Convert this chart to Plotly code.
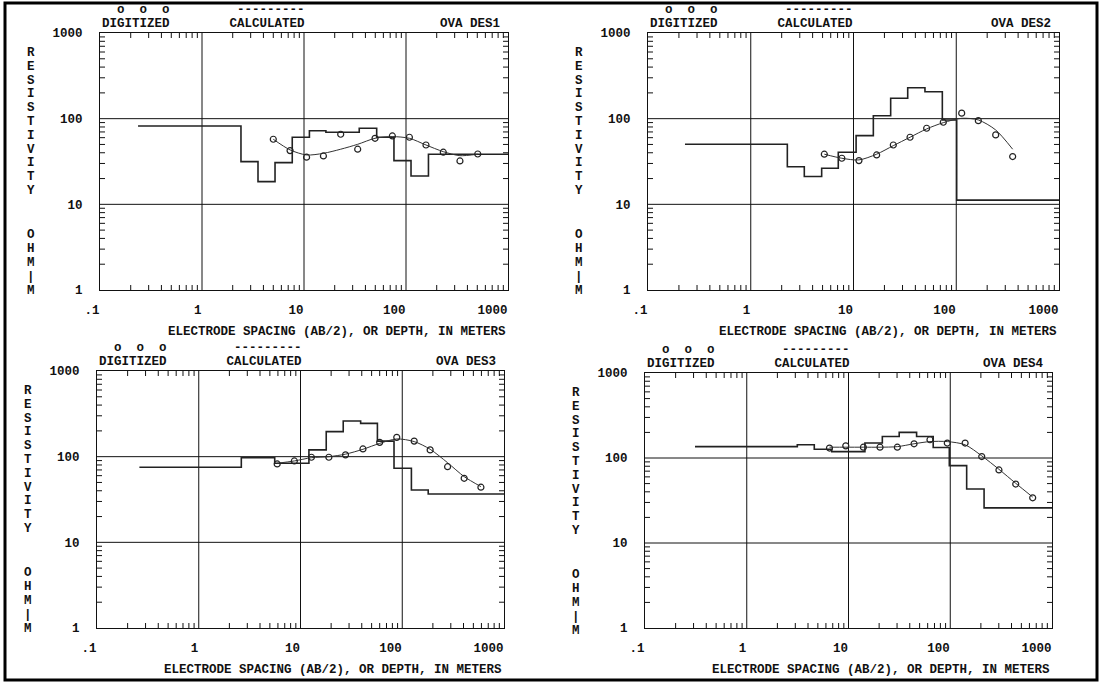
import plotly.graph_objects as go

# ---------------- data ----------------
des1_spacing = [5.0, 7.3, 10.6, 15.5, 22.9, 33.6, 49.7, 73.5, 108, 157, 232, 338, 505]
des1_digitized = [57.5, 42.4, 35.5, 36.7, 65.8, 44.0, 59.0, 62.8, 60.7, 49.3, 40.6, 32.1, 38.7]
des1_calculated = [57.5, 43.2, 37.7, 39.4, 44.0, 50.2, 59.0, 61.7, 59.0, 49.3, 41.2, 37.0, 38.5]
des1_depth = [0.236, 2.41, 3.54, 5.2, 7.67, 11.3, 16.4, 34.8, 51.6, 76.2, 112, 166, 1000]
des1_rho = [82, 31.5, 18.4, 30.7, 60.7, 72.4, 69.4, 77.3, 60.7, 32.4, 21.4, 38.5]

des2_spacing = [5.2, 7.7, 11.3, 16.8, 24.4, 35.5, 51.5, 74.8, 113, 164, 242, 354]
des2_digitized = [38.5, 34.5, 32.4, 37.7, 49.3, 60.7, 77.3, 90.8, 116, 94.8, 64.6, 36.1]
des2_calculated = [38.5, 34.5, 33.0, 38.5, 48.4, 60.7, 75.9, 89.8, 101, 96.6, 73.8, 44.0]
des2_depth = [0.229, 2.27, 3.32, 4.90, 7.11, 10.6, 15.6, 23.0, 33.7, 49.6, 73.2, 101, 1000]
des2_rho = [50.3, 27.5, 21.1, 26.4, 40.6, 63.4, 108, 173, 230, 206, 96.6, 11.2]

des3_spacing = [5.9, 8.7, 12.8, 19.0, 27.7, 41.1, 60.0, 88.3, 131, 188, 279, 406, 593]
des3_digitized = [82.2, 89.1, 98.5, 98.5, 105, 123, 147, 168, 152, 120, 76.4, 55.9, 44.0]
des3_calculated = [83.8, 89.1, 97.3, 100, 107, 122, 143, 161, 150, 122, 85, 58.5, 44.7]
des3_depth = [0.261, 2.62, 5.58, 12.1, 17.9, 26.3, 39.0, 57.0, 83.0, 123, 180, 1000]
des3_rho = [75.2, 97.3, 83.8, 120, 196, 261, 245, 152, 73.3, 40.8, 36.7]

des4_spacing = [6.5, 9.4, 14.0, 20.4, 30.2, 44.1, 63.2, 93.5, 140, 204, 301, 440, 646]
des4_digitized = [131, 139, 134, 134, 134, 147, 164, 150, 150, 104, 72.3, 49.4, 34.0]
des4_calculated = [134, 134, 134, 134, 136, 147, 156, 156, 143, 106, 73.6, 50.4, 34.7]
des4_depth = [0.31, 3.14, 4.61, 6.84, 14.5, 21.5, 31.5, 46.7, 68.0, 97.9, 145, 215, 1000]
des4_rho = [136, 143, 127, 119, 150, 179, 200, 179, 133, 81.3, 43.2, 25.9]

panel_names = ["OVA DES1", "OVA DES2", "OVA DES3", "OVA DES4"]

x_major = [0.1, 1, 10, 100, 1000]
x_major_text = [".1", "1", "10", "100", "1000"]
y_major = [1, 10, 100, 1000]
y_major_text = ["1", "10", "100", "1000"]

x_title = "ELECTRODE SPACING (AB/2), OR DEPTH, IN METERS"
y_title_top = "RESISTIVITY"
y_title_bottom = "OHM|M"
legend_digitized = "DIGITIZED"
legend_calculated = "CALCULATED"

# ---------------- layout geometry (pixels) ----------------
W, H = 1099, 682
# left, right, top, bottom of each plot area
boxes = [
    (100, 508, 33, 290),
    (648, 1059, 33, 290),
    (97, 504, 371, 628),
    (645, 1052, 373, 628),
]
TICK_PX = 5

FONT = "Liberation Mono"
FS = 12.5
INK = "#111111"

def fx(px):
    return px / W

def fy(py):
    return 1 - py / H

def minors(major):
    return [v * k for v in major[:-1] for k in range(2, 10)]

x_minor = minors(x_major)
y_minor = minors(y_major)

datasets = [
    (des1_spacing, des1_digitized, des1_calculated, des1_depth, des1_rho),
    (des2_spacing, des2_digitized, des2_calculated, des2_depth, des2_rho),
    (des3_spacing, des3_digitized, des3_calculated, des3_depth, des3_rho),
    (des4_spacing, des4_digitized, des4_calculated, des4_depth, des4_rho),
]

fig = go.Figure()
annotations = []
shapes = []
layout_axes = {}
nb = "\u00a0"
grid_line = dict(color="#111111", width=1)

for i, ((sp, dig, calc, depth, rho), name, (l, r, t, b)) in enumerate(zip(datasets, panel_names, boxes)):
    n = i + 1
    xa = "x" if n == 1 else f"x{n}"
    ya = "y" if n == 1 else f"y{n}"
    fx_tick = TICK_PX / (r - l)
    fy_tick = TICK_PX / (b - t)

    # decade grid lines
    for v in x_major[1:-1]:
        shapes.append(dict(type="line", xref=xa, yref=f"{ya} domain", x0=v, x1=v, y0=0, y1=1,
                           line=grid_line, layer="below"))
    for v in y_major[1:-1]:
        shapes.append(dict(type="line", xref=f"{xa} domain", yref=ya, x0=0, x1=1, y0=v, y1=v,
                           line=grid_line, layer="below"))
    # minor tick marks (inside, on all four sides)
    for v in x_minor:
        shapes.append(dict(type="line", xref=xa, yref=f"{ya} domain", x0=v, x1=v, y0=0, y1=fy_tick,
                           line=grid_line))
        shapes.append(dict(type="line", xref=xa, yref=f"{ya} domain", x0=v, x1=v, y0=1, y1=1 - fy_tick,
                           line=grid_line))
    for v in y_minor:
        shapes.append(dict(type="line", xref=f"{xa} domain", yref=ya, x0=0, x1=fx_tick, y0=v, y1=v,
                           line=grid_line))
        shapes.append(dict(type="line", xref=f"{xa} domain", yref=ya, x0=1, x1=1 - fx_tick, y0=v, y1=v,
                           line=grid_line))

    # layered model (step)
    fig.add_trace(go.Scatter(
        x=depth, y=rho + [rho[-1]], mode="lines", line=dict(color="#222222", width=1.6, shape="hv"),
        xaxis=xa, yaxis=ya, showlegend=False, hoverinfo="skip"))
    # calculated curve
    fig.add_trace(go.Scatter(
        x=sp, y=calc, mode="lines", line=dict(color="#333333", width=1, shape="spline", smoothing=0.8),
        xaxis=xa, yaxis=ya, showlegend=False))
    fig.add_trace(go.Scatter(
        x=sp, y=dig, mode="markers",
        marker=dict(symbol="circle-open", size=6, color="#222222", line=dict(width=1.2, color="#222222")),
        xaxis=xa, yaxis=ya, showlegend=False))

    tickfont = dict(family=FONT, size=FS, color=INK, weight="bold")
    layout_axes["xaxis" if n == 1 else f"xaxis{n}"] = dict(
        type="log", range=[-1, 3], domain=[fx(l), fx(r)], anchor=ya,
        tickmode="array", tickvals=x_major, ticktext=x_major_text, ticks="",
        showgrid=False,
        showline=True, linecolor="#111111", linewidth=1, mirror=True,
        tickfont=tickfont, ticklabelposition="outside left", ticklabelstandoff=8,
        zeroline=False, automargin=False, fixedrange=True)
    layout_axes["yaxis" if n == 1 else f"yaxis{n}"] = dict(
        type="log", range=[0, 3], domain=[fy(b), fy(t)], anchor=xa,
        tickmode="array", tickvals=y_major, ticktext=y_major_text, ticks="",
        showgrid=False,
        showline=True, linecolor="#111111", linewidth=1, mirror=True,
        tickfont=tickfont, ticklabelstandoff=14,
        zeroline=False, automargin=False, fixedrange=True)

    afont = dict(family=FONT, size=FS, color=INK, weight="bold")
    # header lines
    line1 = (nb * 2 + "o" + nb * 2 + "o" + nb * 2 + "o") + nb * 9 + "-" * 9
    line2 = legend_digitized + nb * 8 + legend_calculated
    annotations.append(dict(x=fx(l), y=fy(t - 23), xref="paper", yref="paper", text=line1,
                            showarrow=False, xanchor="left", yanchor="middle", font=afont))
    annotations.append(dict(x=fx(l), y=fy(t - 9), xref="paper", yref="paper", text=line2,
                            showarrow=False, xanchor="left", yanchor="middle", font=afont))
    annotations.append(dict(x=fx(r - 6), y=fy(t - 9), xref="paper", yref="paper", text=name,
                            showarrow=False, xanchor="right", yanchor="middle", font=afont))
    # x title
    annotations.append(dict(x=fx(r), y=fy(b + 42), xref="paper", yref="paper", text=x_title,
                            showarrow=False, xanchor="right", yanchor="middle", font=afont))
    # vertical y title letters
    for k, ch in enumerate(y_title_top):
        annotations.append(dict(x=fx(l - 69), y=fy(t + 20 + k * 13.8), xref="paper", yref="paper",
                                text=ch, showarrow=False, xanchor="center", yanchor="middle", font=afont))
    for k, ch in enumerate(y_title_bottom):
        annotations.append(dict(x=fx(l - 69), y=fy(t + 202 + k * 14), xref="paper", yref="paper",
                                text=ch, showarrow=False, xanchor="center", yanchor="middle", font=afont))

shapes.append(dict(type="rect", xref="paper", yref="paper",
                   x0=fx(5), x1=fx(1097), y0=fy(680), y1=fy(3),
                   line=dict(color="black", width=3), fillcolor="rgba(0,0,0,0)"))

fig.update_layout(
    width=W, height=H, template="none",
    margin=dict(l=0, r=0, t=0, b=0, pad=0),
    paper_bgcolor="white", plot_bgcolor="white",
    showlegend=False,
    annotations=annotations,
    shapes=shapes,
    **layout_axes,
)

fig.write_html("out.html",
               config={"displayModeBar": False},
               post_script="document.body.style.margin='0';document.body.style.overflow='hidden';")
